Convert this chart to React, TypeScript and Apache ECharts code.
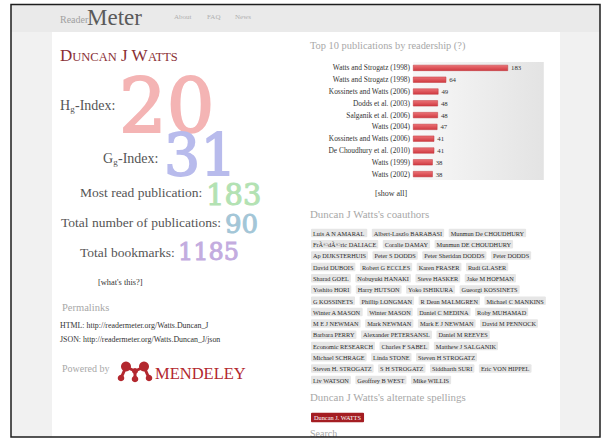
import React, { useEffect, useRef } from "react";
import * as echarts from "echarts";

const categories = [
  "Watts and Strogatz (1998)",
  "Watts and Strogatz (1998)",
  "Kossinets and Watts (2006)",
  "Dodds et al. (2003)",
  "Salganik et al. (2006)",
  "Watts (2004)",
  "Kossinets and Watts (2006)",
  "De Choudhury et al. (2010)",
  "Watts (1999)",
  "Watts (2002)",
];
const readers = [183, 64, 49, 48, 48, 47, 41, 41, 38, 38];

const statLabels = ["-Index:", "-Index:", "Most read publication:", "Total number of publications:", "Total bookmarks:"];
const statValues = ["20", "31", "183", "90", "1185"];

const navItems = ["About", "FAQ", "News"];
const permalinks = [
  "HTML: http://readermeter.org/Watts.Duncan_J",
  "JSON: http://readermeter.org/Watts.Duncan_J/json",
];

const coauthorRows = [
  ["Luis A N AMARAL", "Albert-Laszlo BARABASI", "Munmun De CHOUDHURY"],
  ["FrÃ©dÃ©ric DALIACE", "Coralie DAMAY", "Munmun DE CHOUDHURY"],
  ["Ap DIJKSTERHUIS", "Peter S DODDS", "Peter Sheridan DODDS", "Peter DODDS"],
  ["David DUBOIS", "Robert G ECCLES", "Karen FRASER", "Rudi GLASER"],
  ["Sharad GOEL", "Nobuyuki HANAKI", "Steve HASKER", "Jake M HOFMAN"],
  ["Yoshito HORI", "Harry HUTSON", "Yoko ISHIKURA", "Gueorgi KOSSINETS"],
  ["G KOSSINETS", "Phillip LONGMAN", "R Dean MALMGREN", "Michael C MANKINS"],
  ["Winter A MASON", "Winter MASON", "Daniel C MEDINA", "Roby MUHAMAD"],
  ["M E J NEWMAN", "Mark NEWMAN", "Mark E J NEWMAN", "David M PENNOCK"],
  ["Barbara PERRY", "Alexander PETERSANSL", "Daniel M REEVES"],
  ["Economic RESEARCH", "Charles F SABEL", "Matthew J SALGANIK"],
  ["Michael SCHRAGE", "Linda STONE", "Steven H STROGATZ"],
  ["Steven H. STROGATZ", "S H STROGATZ", "Siddharth SURI", "Eric VON HIPPEL"],
  ["Liv WATSON", "Geoffrey B WEST", "Mike WILLIS"],
];
const alternateSpellings = ["Duncan J. WATTS"];

const SERIF = "Liberation Serif, serif";
const NUMF = "DejaVu Serif, serif";

function txt(x: number, y: number, text: string, size: number, fill: string, family: string = SERIF, strokeW: number = 0) {
  const style: any = {
    text,
    fill,
    font: `${size}px ${family}`,
    align: "left",
    verticalAlign: "middle",
  };
  if (strokeW > 0) {
    style.stroke = fill;
    style.lineWidth = strokeW;
  }
  return { type: "text", x, y, z: 10, style };
}

export default function App() {
  const ref = useRef<HTMLDivElement>(null);
  useEffect(() => {
    if (!ref.current) return;
    const chart = echarts.init(ref.current, undefined, { renderer: "svg" });
    const red = "#b3282f";
    const els: any[] = [];
    // backgrounds
    els.push({ type: "rect", z: -10, shape: { x: 11, y: 4, width: 589, height: 433 }, style: { fill: "#f1f1f1" } });
    els.push({ type: "rect", z: -9, shape: { x: 11, y: 4, width: 589, height: 28 }, style: { fill: "#eaeaea" } });
    els.push({ type: "rect", z: -8, shape: { x: 52, y: 32, width: 508, height: 405 }, style: { fill: "#ffffff" } });
    // header
    els.push(txt(60, 19, "Reader", 10, "#a0a0a0"));
    els.push(txt(87, 17, "Meter", 23, "#5a5a5a"));
    const navX = [174, 207, 235];
    navItems.forEach((n, i) => els.push(txt(navX[i], 17, n, 7, "#b0b0b0")));
    // name in small caps
    els.push({
      type: "text",
      x: 60,
      y: 55,
      z: 10,
      style: {
        text: "{b|D}{s|UNCAN}{b| J W}{s|ATTS}",
        verticalAlign: "middle",
        rich: {
          b: { fontSize: 17, fontFamily: SERIF, fill: "#8a2f35", verticalAlign: "bottom" },
          s: { fontSize: 12.5, fontFamily: SERIF, fill: "#8a2f35", verticalAlign: "bottom" },
        },
      },
    });
    // H-index
    els.push(txt(60, 105, "H", 14, "#555"));
    els.push(txt(70.2, 109, "g", 9, "#555"));
    els.push(txt(75, 105, statLabels[0], 14, "#555"));
    els.push(txt(119, 106, statValues[0], 75, "#f4b4b4", NUMF, 2));
    // G-index
    els.push(txt(103, 158, "G", 14, "#555"));
    els.push(txt(113.2, 162, "g", 9, "#555"));
    els.push(txt(118, 158, statLabels[1], 14, "#555"));
    els.push(txt(164, 155, statValues[1], 57, "#b8bbec", NUMF, 1.8));
    // others
    els.push(txt(80, 192, statLabels[2], 13.5, "#555"));
    els.push(txt(206, 195, statValues[2], 29, "#b3e2b3", NUMF, 1));
    els.push(txt(61, 222, statLabels[3], 13.5, "#555"));
    els.push(txt(225, 224, statValues[3], 26, "#a3c6d7", NUMF, 1));
    els.push(txt(178, 252, statLabels[4] ? statValues[4] : "", 24, "#c3acdf", NUMF, 0.9));
    els.push(txt(80, 252, statLabels[4], 13.5, "#555"));
    els.push(txt(98, 282, "[what's this?]", 8.4, "#333"));
    els.push(txt(62, 307, "Permalinks", 10.5, "#a8a8a8"));
    els.push(txt(60, 325, permalinks[0], 7.9, "#333"));
    els.push(txt(60, 339, permalinks[1], 7.9, "#333"));
    els.push(txt(62, 368, "Powered by", 10, "#a8a8a8"));
    // Mendeley logo
    const lines = [
      [121, 378, 126, 367],
      [126, 367, 135, 371],
      [135, 371, 144, 367],
      [144, 367, 149, 378],
      [135, 371, 135, 379],
    ];
    lines.forEach((l) =>
      els.push({ type: "line", z: 10, shape: { x1: l[0], y1: l[1], x2: l[2], y2: l[3] }, style: { stroke: red, lineWidth: 3 } })
    );
    const circles = [
      [121, 378, 3.3],
      [135, 379, 3.3],
      [149, 378, 3.3],
      [126, 366.5, 5],
      [144, 366.5, 5],
      [135, 371, 3],
    ];
    circles.forEach((c) => els.push({ type: "circle", z: 11, shape: { cx: c[0], cy: c[1], r: c[2] }, style: { fill: red } }));
    els.push(txt(155, 373, "MENDELEY", 16.5, red));
    // right column
    els.push(txt(310, 45, "Top 10 publications by readership (?)", 10.4, "#a8a8a8"));
    els.push(txt(375, 193, "[show all]", 8, "#333"));
    els.push(txt(310, 214, "Duncan J Watts's coauthors", 10.9, "#a8a8a8"));
    const rowY = [233, 244.3, 255.6, 266.9, 278.2, 289.5, 300.8, 312.1, 323.4, 334.7, 346, 357.3, 368.6, 380];
    coauthorRows.forEach((row, i) => {
      els.push({
        type: "text",
        x: 311,
        y: rowY[i],
        z: 10,
        style: {
          text: row.map((t) => `{t|${t}}`).join("{s| }"),
          verticalAlign: "middle",
          rich: {
            t: {
              fontSize: 6.3,
              fontFamily: SERIF,
              fill: "#2a2a2a",
              backgroundColor: "#e6e6e6",
              padding: [1.5, 2, 1, 2],
              borderRadius: 1,
            },
            s: { fontSize: 6, width: 4.5 },
          },
        },
      });
    });
    els.push(txt(310, 397, "Duncan J Watts's alternate spellings", 10.9, "#a8a8a8"));
    els.push({
      type: "text",
      x: 311,
      y: 417.5,
      z: 10,
      style: {
        text: alternateSpellings[0],
        font: `6.3px ${SERIF}`,
        fill: "#ffffff",
        verticalAlign: "middle",
        backgroundColor: "#a41d22",
        padding: [2, 3, 1.5, 3],
        borderRadius: 1,
      },
    });
    els.push(txt(310, 433, "Search", 10, "#a8a8a8"));
    // frame + outside cover
    els.push({ type: "rect", z: 49, shape: { x: 0, y: 437.5, width: 601, height: 2 }, style: { fill: "#ffffff" } });
    els.push({
      type: "rect",
      z: 50,
      shape: { x: 11, y: 4.5, width: 589, height: 432.5 },
      style: { fill: "none", stroke: "#1e1e1e", lineWidth: 1.5 },
    });

    chart.setOption({
      animation: false,
      grid: {
        left: 413,
        top: 62,
        width: 130.8,
        height: 118,
        show: true,
        borderWidth: 0,
        backgroundColor: new echarts.graphic.LinearGradient(0, 0, 1, 0, [
          { offset: 0, color: "#f8f8f8" },
          { offset: 1, color: "#e3e3e3" },
        ]),
        z: 2,
      },
      xAxis: {
        type: "value",
        min: 0,
        max: 252,
        interval: 42,
        axisLabel: { show: false },
        axisLine: { show: false },
        axisTick: { show: false },
        splitLine: { show: true, lineStyle: { color: "#ffffff", width: 1.5, opacity: 0.9 } },
      },
      yAxis: {
        type: "category",
        inverse: true,
        data: categories,
        axisLine: { show: false },
        axisTick: { show: false },
        axisLabel: { fontSize: 7.4, color: "#333", fontFamily: SERIF, margin: 3 },
      },
      series: [
        {
          type: "bar",
          data: readers,
          barWidth: 6,
          z: 5,
          itemStyle: {
            color: new echarts.graphic.LinearGradient(0, 0, 0, 1, [
              { offset: 0, color: "#ec7276" },
              { offset: 1, color: "#cf3a41" },
            ]),
            borderColor: "#c0343a",
            borderWidth: 0.5,
          },
          label: { show: true, position: "right", distance: 3, fontSize: 6.8, color: "#333", fontFamily: SERIF },
        },
      ],
      graphic: { elements: els },
    });
    return () => chart.dispose();
  }, []);
  return (
    <div
      ref={ref}
      style={{ position: "absolute", left: 0, top: 0, width: 601, height: 439, background: "#ffffff" }}
    />
  );
}
